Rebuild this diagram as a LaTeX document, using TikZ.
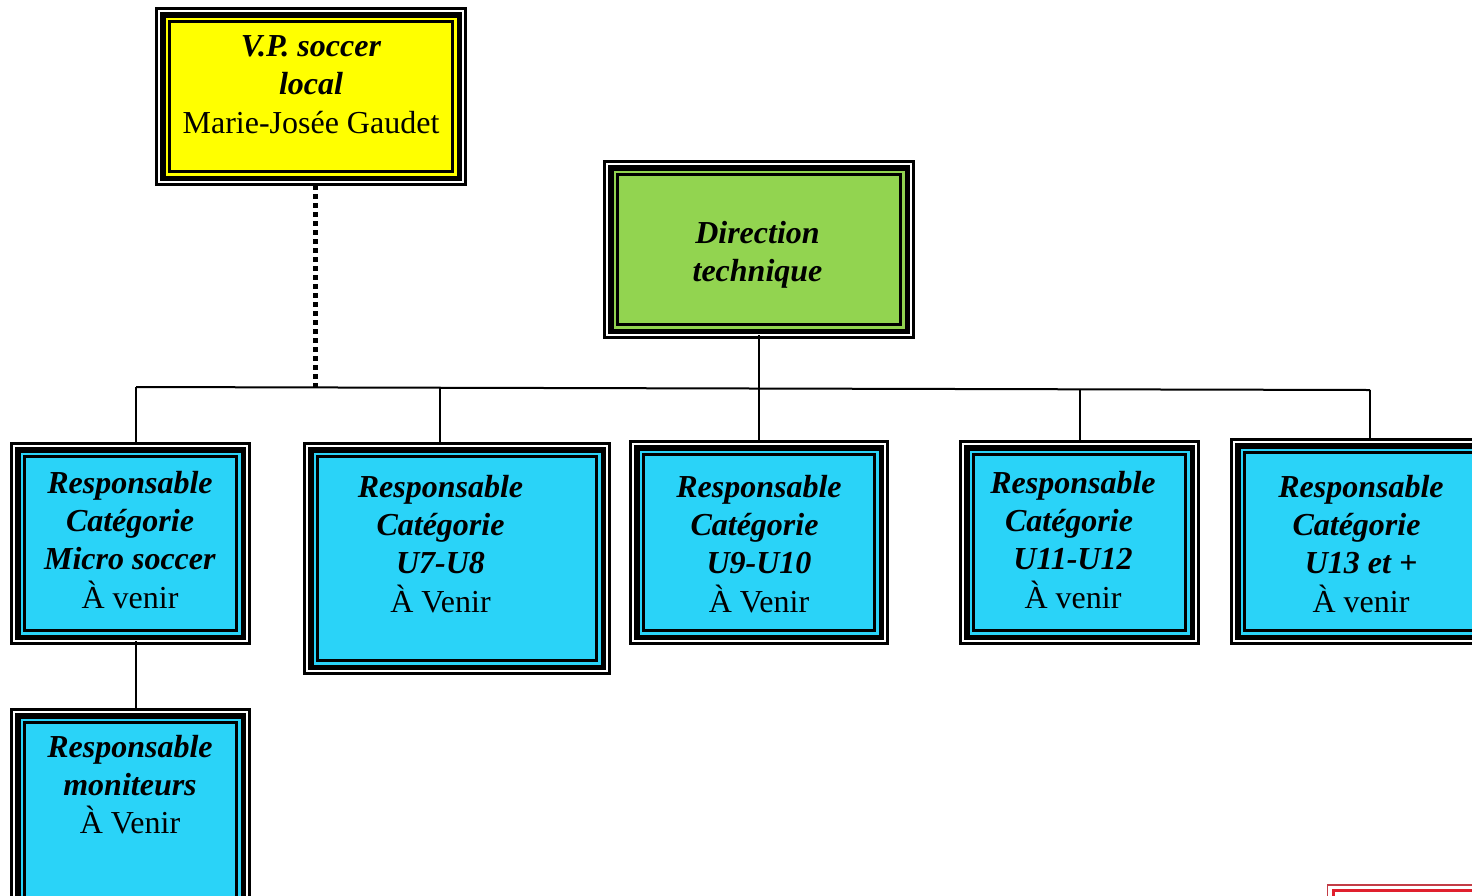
\documentclass[tikz,border=0pt]{standalone}
\usepackage{fontspec}
\setmainfont{Liberation Serif}
\definecolor{cy}{HTML}{2AD3F8}
\definecolor{gr}{HTML}{92D450}
\definecolor{ye}{HTML}{FFFF00}
\definecolor{rd}{HTML}{E0202E}
\newcommand{\frameit}[6]{% name, x0,y0,x1,y1, fill
  \node[outerbox,fill=white,minimum width=#4-#2,minimum height=#5-#3] (#1) at ({(#2+#4)/2},{(#3+#5)/2}) {};
  \fill[black] ([shift={(3.5,3.5)}]#1.north west) rectangle ([shift={(-3.5,-3.5)}]#1.south east);
  \fill[#6] ([shift={(9,9)}]#1.north west) rectangle ([shift={(-9,-9)}]#1.south east);
  \draw[innerline,fill=#6] ([shift={(13,13)}]#1.north west) rectangle ([shift={(-13,-13)}]#1.south east);
}
\tikzset{
  outerbox/.style={draw=black,line width=3pt,rectangle,inner sep=0pt,outer sep=0pt},
  innerline/.style={draw=black,line width=2.5pt},
  conn/.style={draw=black,line width=2pt},
  dotconn/.style={draw=black,line width=5pt,dash pattern=on 5pt off 4pt},
  txt/.style={align=center,font=\fontsize{32}{38}\selectfont,inner sep=0pt,text=black},
}
\newcommand{\bi}[1]{\textbf{\textit{#1}}}
\newcommand{\pad}[1]{\rule{#1}{0pt}}
\begin{document}
\begin{tikzpicture}[x=1pt,y=-1pt]
\clip (0,0) rectangle (1472,895);
\fill[white] (0,0) rectangle (1472,895);
% red frame at lower right
\draw[rd!70!gray,line width=1.5pt] (1327.5,885) rectangle (1500,950);
\draw[rd,line width=3pt] (1333,890.5) rectangle (1500,950);
\frameit{vp}{156.5}{8.5}{465.5}{184.5}{ye}
\frameit{dir}{604.5}{161.5}{913.5}{337.5}{gr}
\frameit{micro}{11.5}{443.5}{249.5}{643.5}{cy}
\frameit{useven}{304.5}{443.5}{609.5}{673.5}{cy}
\frameit{unine}{630.5}{441.5}{887.5}{643.5}{cy}
\frameit{ueleven}{960.5}{441.5}{1198.5}{643.5}{cy}
\frameit{uthirteen}{1231.5}{439.5}{1490}{643.5}{cy}
\frameit{mon}{11.5}{709.5}{249.5}{920}{cy}
\node[txt] (tvp) at (311,84.5) {\bi{V.P. soccer}\\\bi{local}\\[1pt]Marie-Josée Gaudet};
\node[txt] (tdir) at (757.5,255) {\bi{Direction}\\\bi{technique}};
\node[txt] (tmicro) at (130,540.5) {\bi{Responsable}\\\bi{Catégorie}\\\bi{Micro soccer}\\[1pt]À venir};
\node[txt] (tus) at (440.5,544.5) {\bi{Responsable}\\\bi{Catégorie}\\\bi{U7-U8}\\[1pt]À Venir};
\node[txt] (tun) at (759,544.5) {\bi{Responsable}\\\bi{Catégorie}\pad{9pt}\\\bi{U9-U10}\\[1pt]À Venir};
\node[txt] (tue) at (1073,540.5) {\bi{Responsable}\\\bi{Catégorie}\pad{8pt}\\\bi{U11-U12}\\[1pt]À venir};
\node[txt] (tut) at (1361,544.5) {\bi{Responsable}\\\bi{Catégorie}\pad{9pt}\\\bi{U13 et +}\\[1pt]À venir};
\node[txt] (tmon) at (130,784.5) {\bi{Responsable}\\\bi{moniteurs}\\À Venir};
% connectors
\coordinate (hl) at (136,387);
\coordinate (hr) at (1370,390);
\coordinate (d) at (315,388);
\coordinate (ds) at (315,176);
\draw[conn] (hl) -- (hr);
\draw[dotconn] (vp.south -| d) ++(0,0.5) -- (d);
\draw[conn] (hl) -- (micro.north -| hl);
\coordinate (a1) at (440,388);
\draw[conn] (a1) -- (useven.north -| a1);
\coordinate (a2) at (759,335);
\draw[conn] (a2) -- (unine.north -| a2);
\coordinate (a3) at (1080,389);
\draw[conn] (a3) -- (ueleven.north -| a3);
\draw[conn] (hr) -- (uthirteen.north -| hr);
\coordinate (a4) at (136,641);
\draw[conn] (a4) -- (mon.north -| a4);
\end{tikzpicture}
\end{document}
